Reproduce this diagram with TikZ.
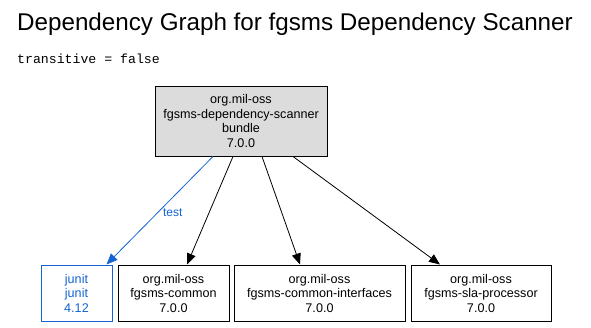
\documentclass[tikz,border=0pt]{standalone}
\usepackage{fontspec}
\setmainfont{Liberation Sans}
\setmonofont{Liberation Mono}
\usetikzlibrary{arrows.meta}
\definecolor{depblue}{HTML}{1464D2}
\definecolor{depgray}{HTML}{DCDCDC}

\begin{document}
\begin{tikzpicture}[x=1pt, y=-1pt, >={Triangle[length=11pt, width=9pt]}, font=\fontsize{12.6}{14.5}\selectfont]
    \useasboundingbox (0,0) rectangle (591,327);

    % ===== TITLE =====
    \node[anchor=base west, inner sep=0, font=\fontsize{24.2}{28}\selectfont] (title) at (17, 30) {Dependency Graph for fgsms Dependency Scanner};
    \node[anchor=base west, inner sep=0, font=\ttfamily\fontsize{13.2}{14}\selectfont] (trans) at (17, 63) {transitive = false};

    \tikzset{
        pkgbox/.style={draw=black, line width=1pt, fill=white, align=center, inner sep=0, minimum height=56pt},
        testbox/.style={pkgbox, draw=depblue, text=depblue}
    }

    % ===== ROOT =====
    \node[pkgbox, fill=depgray, minimum width=172pt, minimum height=70pt] (scanner) at (241, 121)
        {org.mil-oss\\fgsms-dependency-scanner\\bundle\\7.0.0};

    % ===== DEPENDENCIES =====
    \node[testbox, minimum width=71pt]  (junit)      at (76.5, 293)  {junit\\junit\\4.12};
    \node[pkgbox,  minimum width=111pt] (common)     at (173.5, 293) {org.mil-oss\\fgsms-common\\7.0.0};
    \node[pkgbox,  minimum width=171pt] (interfaces) at (319.5, 293) {org.mil-oss\\fgsms-common-interfaces\\7.0.0};
    \node[pkgbox,  minimum width=140pt] (slaproc)    at (481, 293)   {org.mil-oss\\fgsms-sla-processor\\7.0.0};

    % ===== EDGES =====
    \draw[->, depblue, thick] ([xshift=-28pt]scanner.south) -- ([xshift=30pt]junit.north)
        node[pos=0.5, xshift=13pt, yshift=-2pt, inner sep=0, font=\fontsize{12}{14}\selectfont, text=depblue] {test};
    \draw[->, thick] ([xshift=-8pt]scanner.south)  -- ([xshift=13.5pt]common.north);
    \draw[->, thick] ([xshift=21pt]scanner.south)  -- ([xshift=-19.5pt]interfaces.north);
    \draw[->, thick] ([xshift=52pt]scanner.south)  -- ([xshift=-41pt]slaproc.north);

\end{tikzpicture}
\end{document}
